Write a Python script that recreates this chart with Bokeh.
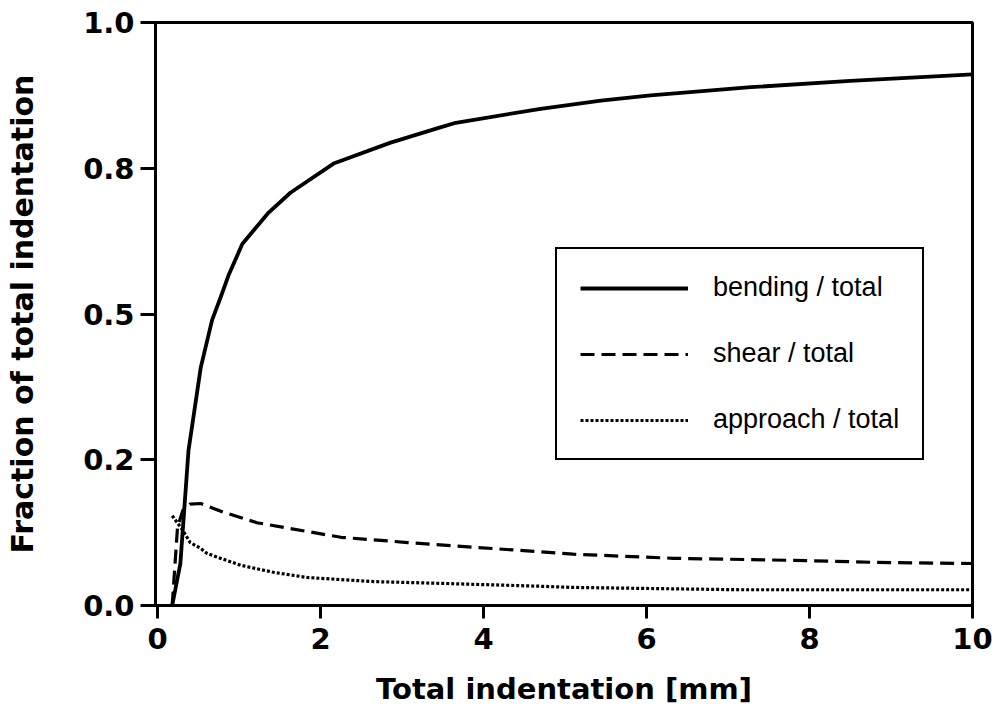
from bokeh.plotting import figure
from bokeh.models import Range1d, FixedTicker, Legend, LegendItem
from bokeh.embed import file_html
from bokeh.resources import INLINE

# Data
bending_x = [0.18, 0.28, 0.38, 0.53, 0.67, 0.77, 0.87, 1.04, 1.35, 1.63, 2.16, 2.86, 3.47, 3.66, 4.7, 5.44, 6.05, 7.28, 8.5, 10.0]
bending_y = [0.0, 0.072, 0.266, 0.408, 0.49, 0.527, 0.566, 0.62, 0.672, 0.708, 0.758, 0.794, 0.82, 0.828, 0.852, 0.866, 0.875, 0.889, 0.90, 0.911]

shear_x = [0.18, 0.245, 0.31, 0.40, 0.53, 0.81, 1.22, 1.63, 2.25, 3.07, 3.88, 4.7, 5.1, 6.33, 7.97, 8.79, 10.0]
shear_y = [0.0, 0.134, 0.163, 0.174, 0.175, 0.16, 0.142, 0.132, 0.117, 0.108, 0.1, 0.092, 0.088, 0.081, 0.077, 0.074, 0.072]

approach_x = [0.18, 0.31, 0.40, 0.53, 0.61, 1.02, 1.42, 1.84, 2.65, 3.47, 4.7, 5.1, 7.15, 10.0]
approach_y = [0.154, 0.129, 0.108, 0.098, 0.089, 0.069, 0.057, 0.048, 0.041, 0.038, 0.033, 0.031, 0.027, 0.027]

x_ticks = [0, 2, 4, 6, 8, 10]
y_ticks = [0.0, 0.25, 0.5, 0.75, 1.0]
y_tick_labels = ["0.0", "0.2", "0.5", "0.8", "1.0"]

series_labels = ["bending / total", "shear / total", "approach / total"]

BOLD_FONT = "DejaVu Sans"

p = figure(width=998, height=708, output_backend="svg", toolbar_location=None,
           x_range=Range1d(-0.025, 10), y_range=Range1d(0, 1),
           min_border_left=155, min_border_right=26, min_border_top=22, min_border_bottom=103)
p.grid.visible = False
p.outline_line_color = "black"
p.outline_line_width = 3
p.outline_line_alpha = 1.0
p.background_fill_color = "white"
p.border_fill_color = "white"

r1 = p.line(bending_x, bending_y, line_color="black", line_width=3.8)
r2 = p.line(shear_x, shear_y, line_color="black", line_width=3.2, line_dash="14 7")
r3 = p.line(approach_x, approach_y, line_color="black", line_width=3.2, line_dash="3 2")

for ax in (p.xaxis[0], p.yaxis[0]):
    ax.axis_line_width = 3
    ax.major_tick_line_width = 3
    ax.major_tick_in = 0
    ax.minor_tick_in = 0
    ax.minor_tick_out = 0
    ax.major_label_text_font = BOLD_FONT
    ax.major_label_text_font_style = "bold"
    ax.major_label_text_font_size = "29px"
    ax.major_label_text_color = "black"
    ax.axis_label_text_font = BOLD_FONT
    ax.axis_label_text_font_style = "bold"
    ax.axis_label_text_font_size = "29px"
    ax.axis_label_text_color = "black"

p.xaxis[0].ticker = FixedTicker(ticks=x_ticks)
p.xaxis[0].major_tick_out = 13
p.xaxis[0].major_label_standoff = 9
p.xaxis[0].axis_label = "Total indentation [mm]"
p.xaxis[0].axis_label_standoff = 20

p.yaxis[0].ticker = FixedTicker(ticks=y_ticks)
p.yaxis[0].major_label_overrides = {t: l for t, l in zip(y_ticks, y_tick_labels)}
p.yaxis[0].major_tick_out = 15
p.yaxis[0].major_label_standoff = 6
p.yaxis[0].axis_label = "Fraction of total indentation"
p.yaxis[0].axis_label_text_font_size = "30px"
p.yaxis[0].axis_label_standoff = 40

legend = Legend(items=[LegendItem(label=series_labels[0], renderers=[r1]),
                       LegendItem(label=series_labels[1], renderers=[r2]),
                       LegendItem(label=series_labels[2], renderers=[r3])],
                location=(400, 145))
legend.label_text_font = "Liberation Sans"
legend.label_text_font_size = "27px"
legend.label_text_color = "black"
legend.label_height = 30
legend.glyph_height = 30
legend.glyph_width = 108
legend.label_standoff = 25
legend.spacing = 35
legend.padding = 23
legend.margin = 0
legend.border_line_color = "black"
legend.border_line_alpha = 1.0
legend.border_line_width = 2
legend.background_fill_alpha = 1.0
p.add_layout(legend)

open("out.html", "w").write(file_html(p, INLINE))
